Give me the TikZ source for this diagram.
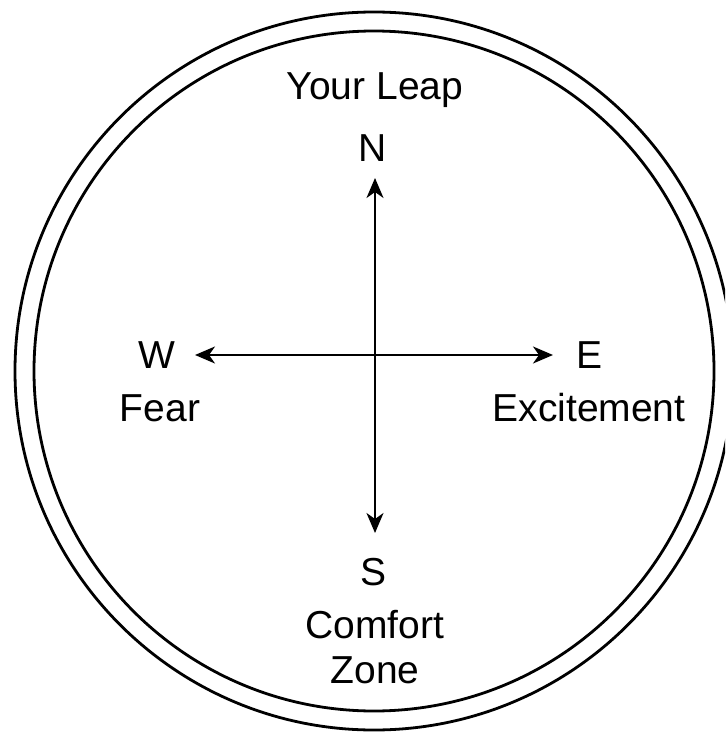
\documentclass[tikz,border=0pt]{standalone}
\usepackage{fontspec}
\setmainfont{Liberation Sans}
\usetikzlibrary{arrows.meta}
\tikzset{lbl/.style={font=\fontsize{19.5}{23}\selectfont,inner sep=0pt,anchor=base},ring/.style={line width=1.4pt},arr/.style={{Stealth[length=10pt,width=8.5pt,inset=3pt]}-{Stealth[length=10pt,width=8.5pt,inset=3pt]},line width=1pt}}
\begin{document}
\begin{tikzpicture}[x=0.5pt,y=-0.5pt]
\clip (0,0) rectangle (725,732);
\coordinate (c) at (374,371);
\draw[ring] (c) circle[radius=179.5pt];
\draw[ring] (c) circle[radius=170pt];
% compass points
\node[lbl] (leap) at (375,100) {Your Leap};
\node[lbl] (n) at (373,162) {N};
\node[lbl] (w) at (157,368) {W};
\node[lbl] (fear) at (160,421) {Fear};
\node[lbl] (e) at (589,368) {E};
\node[lbl] (exc) at (589,421) {Excitement};
\node[lbl] (s) at (373,585) {S};
\node[lbl] (comf) at (375,638) {Comfort};
\node[lbl] (zone) at (375,683) {Zone};
\coordinate (ntip) at (375,178);
\coordinate (stip) at (375,533);
\coordinate (wtip) at (195,355);
\coordinate (etip) at (553,355);
\draw[arr] (wtip)--(etip);
\draw[arr] (ntip)--(stip);
\end{tikzpicture}
\end{document}
